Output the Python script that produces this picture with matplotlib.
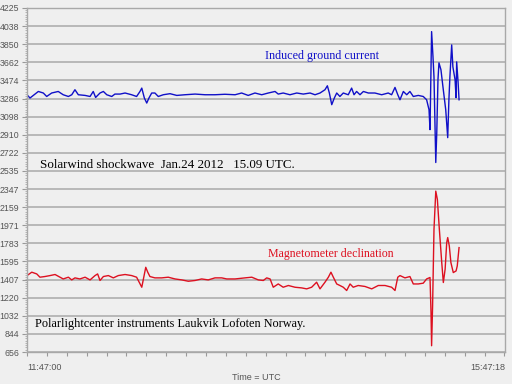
import matplotlib
matplotlib.use("Agg")
import matplotlib.pyplot as plt
from matplotlib.ticker import FixedLocator, MultipleLocator, NullFormatter

# minutes after 11:47:00 UTC
blue_t = [0.0, 1.5, 5.7, 8.2, 9.9, 12.4, 15.7, 18.2, 20.8, 22.5, 24.1, 25.8, 29.2, 31.7,
          33.3, 34.5, 36.7, 38.4, 40.1, 42.6, 44.2, 46.8, 49.3, 52.6, 55.1, 56.8, 57.7,
          59.0, 60.2, 61.3, 62.7, 64.3, 66.0, 68.5, 71.9, 75.3, 79.4, 84.5, 89.5, 94.5,
          99.5, 104.6, 107.9, 111.2, 114.6, 118.0, 121.3, 124.7, 126.3, 128.8, 132.2,
          135.6, 138.9, 142.3, 144.8, 147.3, 149.8, 151.0, 152.0, 153.2, 154.5, 155.7,
          157.3, 159.0, 161.5, 163.2, 164.4, 165.7, 167.4, 169.1, 171.6, 174.9, 178.3,
          181.6, 183.3, 185.0, 186.4, 187.5, 189.2, 190.9, 192.5, 194.2, 196.7, 199.2,
          200.9, 201.7, 202.1, 202.6, 203.4, 204.1, 204.6, 205.5, 206.0, 206.6, 207.1,
          208.1, 209.1, 210.5, 211.5, 212.1, 212.6, 213.5, 214.1, 215.2, 215.7, 216.0,
          216.7, 217.2]
blue_v = [3325, 3291, 3359, 3343, 3307, 3343, 3359, 3325, 3307, 3325, 3377, 3325, 3318, 3307,
          3359, 3297, 3343, 3359, 3325, 3307, 3332, 3332, 3343, 3325, 3307, 3359, 3394,
          3291, 3239, 3291, 3343, 3343, 3307, 3325, 3336, 3318, 3325, 3332, 3325, 3325,
          3330, 3325, 3343, 3318, 3343, 3325, 3343, 3359, 3332, 3343, 3325,
          3343, 3332, 3343, 3325, 3343, 3377, 3418, 3343, 3222, 3291, 3343,
          3307, 3343, 3325, 3394, 3325, 3359, 3325, 3359, 3343, 3343, 3325,
          3343, 3325, 3401, 3325, 3273, 3359, 3325, 3359, 3307, 3318, 3307,
          3273, 3204, 3170, 2963, 3980, 3718, 3510, 2622, 2932, 3480, 3656,
          3584, 3408, 3170, 2880, 3273, 3510, 3842, 3615, 3480, 3294, 3666,
          3460, 3273]

red_t = [0.0, 2.4, 4.9, 6.5, 9.0, 11.6, 14.1, 16.6, 18.2, 20.8, 22.5, 24.1, 26.6, 29.2,
         31.7, 34.2, 35.5, 36.7, 38.4, 40.9, 43.4, 45.9, 49.3, 52.6, 55.1, 57.7, 59.7,
         60.7, 61.8, 64.3, 67.7, 71.0, 74.4, 77.8, 81.1, 84.5, 87.8, 91.1, 94.5, 97.9,
         100.4, 104.6, 109.6, 113.0, 116.3, 118.8, 120.5, 122.2, 123.8, 126.3, 128.8,
         131.4, 134.7, 138.1, 140.6, 143.1, 145.6, 147.3, 149.8, 151.5, 152.8, 154.0,
         155.7, 157.3, 159.0, 160.7, 162.4, 164.0, 166.5, 169.9, 173.3, 176.6, 180.0,
         183.3, 185.0, 186.4, 187.5, 190.0, 192.5, 194.2, 196.7, 199.2, 200.9, 202.6,
         203.1, 203.4, 203.9, 204.6, 205.5, 206.3, 207.3, 208.5, 209.3, 210.2, 211.0,
         211.5, 212.3, 213.1, 214.3, 215.7, 216.3, 217.2]
red_v = [1449, 1484, 1466, 1432, 1439, 1449, 1460, 1432, 1414, 1432, 1404, 1425, 1414, 1432,
         1404, 1449, 1466, 1398, 1439, 1449, 1425, 1449, 1460, 1449, 1432, 1328, 1535,
         1484, 1439, 1425, 1425, 1432, 1414, 1404, 1390, 1398, 1414, 1404, 1425, 1425,
         1414, 1414, 1425, 1432, 1404, 1398, 1425, 1414, 1328, 1362, 1328,
         1346, 1328, 1321, 1311, 1328, 1380, 1311, 1380, 1432, 1484, 1432,
         1362, 1346, 1328, 1294, 1362, 1328, 1346, 1336, 1311, 1346, 1346,
         1328, 1294, 1432, 1449, 1425, 1439, 1362, 1362, 1370, 1414, 1429,
         1070, 721, 1135, 1928, 2325, 2239, 1928, 1584, 1377, 1515, 1791,
         1843, 1756, 1584, 1480, 1497, 1549, 1739]

y_ticks = [656, 844, 1032, 1220, 1407, 1595, 1783, 1971, 2159, 2347, 2535, 2722,
           2910, 3098, 3286, 3474, 3662, 3850, 4038, 4225]
x_span = 240.3  # 11:47:00 -> 15:47:18
x_labels = ["11:47:00", "15:47:18"]

bg = "#efefef"
sans = "Liberation Sans"
fig = plt.figure(figsize=(5.12, 3.84), dpi=100, facecolor=bg)
W, H = 512, 384
ax = fig.add_axes([27 / W, 1 - 352 / H, (505 - 27) / W, (352 - 8) / H])
ax.set_facecolor(bg)

ax.plot(blue_t, blue_v, color="#1010c8", lw=1.0)
ax.plot(red_t, red_v, color="#dd1020", lw=1.0)

ax.set_xlim(0, x_span)
ax.set_ylim(y_ticks[0], y_ticks[-1])
ax.yaxis.set_major_locator(FixedLocator(y_ticks))
ax.set_yticklabels([str(v) for v in y_ticks], family=sans)
ax.yaxis.set_minor_locator(MultipleLocator((y_ticks[-1] - y_ticks[0]) / 19 / 8))
ax.grid(axis="y", color="#b4b4b4", lw=1.3)
ax.set_axisbelow(True)

ax.xaxis.set_major_locator(MultipleLocator(10))
ax.xaxis.set_major_formatter(NullFormatter())
ax.tick_params(axis="x", which="major", length=3, color="#999999", direction="out")
ax.tick_params(axis="y", which="major", length=3.5, color="#999999", labelsize=6.3,
               labelcolor="#555555", pad=2)
ax.tick_params(axis="y", which="minor", length=1.5, color="#aaaaaa")
for s in ax.spines.values():
    s.set_color("#a8a8a8")
    s.set_linewidth(1.0)

fig.text(27 / W, 1 - 367 / H, x_labels[0], ha="left", va="center", fontsize=6.5,
         color="#555555", family=sans)
fig.text(505 / W, 1 - 367 / H, x_labels[1], ha="right", va="center", fontsize=6.5,
         color="#555555", family=sans)
fig.text(256 / W, 1 - 378 / H, "Time = UTC", ha="center", va="center", fontsize=6.5,
         color="#555555", family=sans)

serif = "Liberation Serif"
fig.text(265 / W, 1 - 56 / H, "Induced ground current", color="#1010c8",
         fontsize=8.7, family=serif, va="center", ha="left")
fig.text(40 / W, 1 - 165 / H, "Solarwind shockwave  Jan.24 2012   15.09 UTC.",
         color="black", fontsize=9.4, family=serif, va="center", ha="left")
fig.text(268 / W, 1 - 254 / H, "Magnetometer declination", color="#dd1020",
         fontsize=8.6, family=serif, va="center", ha="left")
fig.text(35 / W, 1 - 324 / H, "Polarlightcenter instruments Laukvik Lofoten Norway.",
         color="black", fontsize=8.8, family=serif, va="center", ha="left")

fig.savefig("out.png", dpi=100, facecolor=bg)
